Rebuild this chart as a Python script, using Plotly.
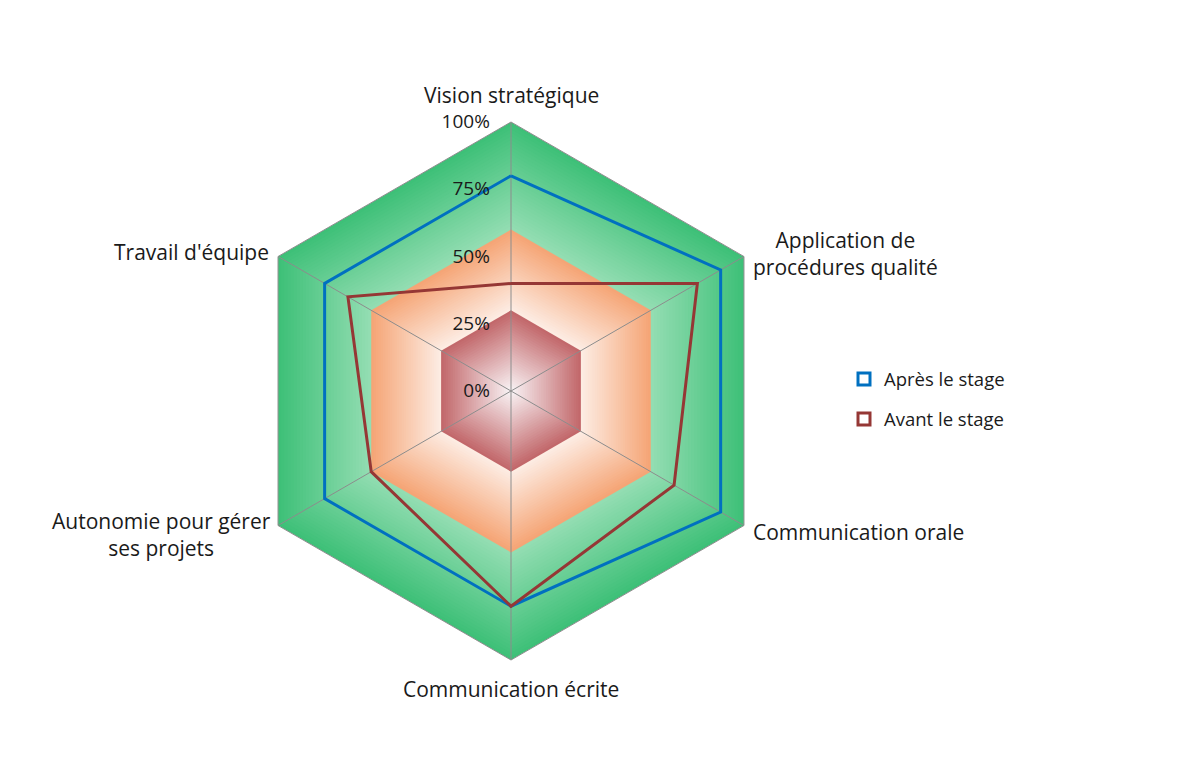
import plotly.graph_objects as go

# Axes of the radar chart, clockwise from the top
categories = ['Vision stratégique', 'Application de procédures qualité', 'Communication orale',
              'Communication écrite', 'Autonomie pour gérer ses projets', "Travail d'équipe"]
category_labels = ['Vision stratégique', 'Application de<br>procédures qualité', 'Communication orale',
                   'Communication écrite', 'Autonomie pour gérer<br>ses projets', "Travail d'équipe"]

apres = [80, 90, 90, 80, 80, 80]
avant = [40, 80, 70, 80, 60, 70]

# Background bands (upper limit of each zone, in %)
band_limits = [30, 60, 100]
band_inner_colors = [(250, 246, 248), (253, 238, 230), (150, 222, 180)]
band_outer_colors = [(194, 104, 107), (245, 165, 118), (62, 192, 120)]

radial_ticks = [0, 25, 50, 75, 100]
radial_labels = ['0%', '25%', '50%', '75%', '100%']

FONT = 'Open Sans'
TXT = '#1a1a1a'
W, H = 1180, 775  # page body adds 8px on top/left
theta = categories + [categories[0]]


def px(x, y):
    # screen position of the original picture -> paper coords
    return (x - 8) / W, (H - (y - 8)) / H


fig = go.Figure()

# fake radial gradient: stack of hexagons from outside to inside
steps = 30
lower = [0] + band_limits[:-1]
for lo, hi, cin, cout in reversed(list(zip(lower, band_limits, band_inner_colors, band_outer_colors))):
    for k in range(steps):
        r = hi - (hi - lo) * k / steps
        t = (r - lo) / (hi - lo)
        col = tuple(round(cin[i] + (cout[i] - cin[i]) * t) for i in range(3))
        fig.add_trace(go.Scatterpolar(
            r=[r] * 7, theta=theta, mode='lines', fill='toself',
            fillcolor='rgb(%d,%d,%d)' % col, line=dict(width=0),
            hoverinfo='skip', showlegend=False))

# spokes drawn above the bands
spoke_r, spoke_t = [], []
for c in categories:
    spoke_r += [0, 100, None]
    spoke_t += [c, c, None]
fig.add_trace(go.Scatterpolar(r=spoke_r, theta=spoke_t, mode='lines',
                              line=dict(color='#8c8c8c', width=1),
                              hoverinfo='skip', showlegend=False))

series = [('Après le stage', apres, '#0070C0'), ('Avant le stage', avant, '#953735')]
for name, vals, color in series:
    fig.add_trace(go.Scatterpolar(
        r=vals + [vals[0]], theta=theta, mode='lines', name=name,
        line=dict(color=color, width=3), showlegend=False))
    # legend entry with open square like the original
    fig.add_trace(go.Scatterpolar(
        r=[None], theta=[None], mode='markers', name=name, legendgroup=name,
        marker=dict(symbol='square-open', size=12, color=color, line=dict(width=3))))

# category labels (centered multi-line text, placed like the original)
label_pos = [(511, 95), (845, 253), (858, 532), (511, 689), (161, 534), (191, 252)]
for text, (x, y) in zip(category_labels, label_pos):
    ax, ay = px(x, y)
    fig.add_annotation(x=ax, y=ay, xref='paper', yref='paper', text=text,
                       showarrow=False, align='center', xanchor='center', yanchor='middle',
                       font=dict(size=21, family=FONT, color=TXT))

fig.update_layout(
    width=W, height=H,
    paper_bgcolor='white',
    margin=dict(l=0, r=0, t=0, b=0),
    font=dict(family=FONT, color=TXT),
    polar=dict(
        domain=dict(x=[234 / W, 772 / W], y=[123 / H, 661 / H]),
        bgcolor='white',
        gridshape='linear',
        angularaxis=dict(
            rotation=90, direction='clockwise',
            showgrid=False, showline=True, linecolor='#8c8c8c', linewidth=1,
            ticks='', showticklabels=False,
        ),
        radialaxis=dict(
            range=[0, 100], angle=90, side='counterclockwise',
            tickvals=radial_ticks, ticktext=radial_labels, tickangle=90,
            showgrid=False, showline=False,
            ticks='outside', ticklen=14, tickcolor='rgba(0,0,0,0)',
            tickfont=dict(size=19, family=FONT, color=TXT),
        ),
    ),
    legend=dict(
        x=836 / W, xanchor='left', y=0.5 - 4 / H, yanchor='middle',
        font=dict(size=18.5, family=FONT, color=TXT),
        tracegroupgap=13, traceorder='grouped',
    ),
)

fig.write_html('out.html')
